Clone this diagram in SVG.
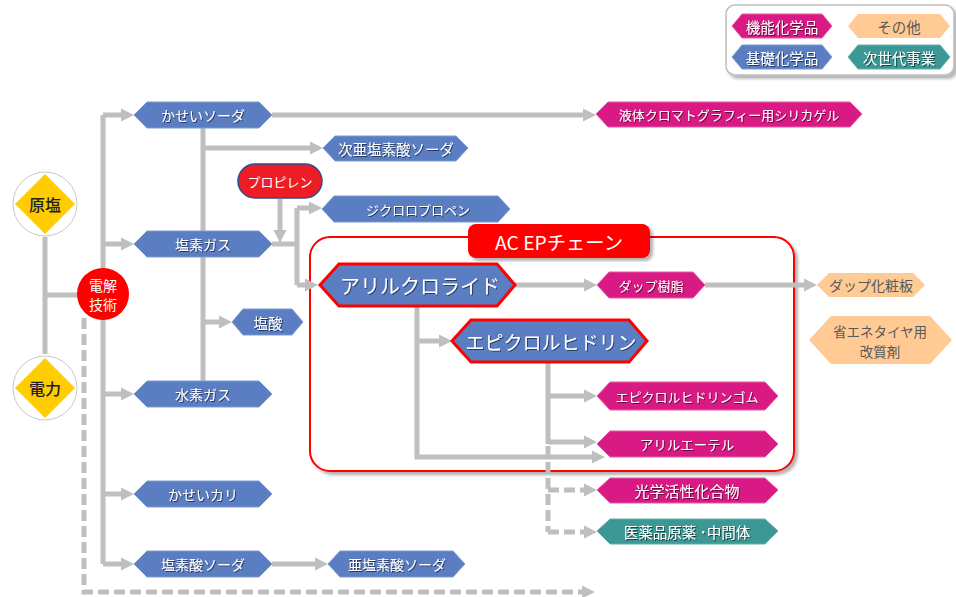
<svg xmlns="http://www.w3.org/2000/svg" width="956" height="597" viewBox="0 0 956 597">
<style>
.t{font-family:"Noto Sans CJK JP","Noto Sans",sans-serif;text-anchor:middle;dominant-baseline:central}
.w{fill:#fff;filter:url(#ts)}
.dk{fill:#595959}
.bl{fill:#5B7EC3;stroke:#7D9AD3;stroke-width:1}
.mg{fill:#DA1A84;stroke:#E55AA6;stroke-width:1}
.pc{fill:#FFCA94}
.tl{fill:#3C9895;stroke:#62B0AD;stroke-width:1}
.rb{fill:#5B7EC3;stroke:#FF0000;stroke-width:3}
.c{fill:none;stroke:#BFBFBF;stroke-width:5}
.ca{marker-end:url(#ah)}
.d{stroke-dasharray:11 5}
</style>
<defs>
<filter id="ts" x="-10%" y="-10%" width="130%" height="140%"><feDropShadow dx="1" dy="1" stdDeviation="0.6" flood-color="#000" flood-opacity="0.55"/></filter>
<filter id="bs" x="-5%" y="-5%" width="115%" height="115%"><feDropShadow dx="3" dy="3" stdDeviation="1.5" flood-color="#000" flood-opacity="0.3"/></filter>
<marker id="ah" markerUnits="userSpaceOnUse" markerWidth="14" markerHeight="14" refX="3" refY="7" orient="auto"><path d="M0,0.5 L13,7 L0,13.5 z" fill="#BFBFBF"/></marker>
</defs>

<g id="legend">
<rect x="726" y="5" width="228" height="70" rx="9" fill="#fff" stroke="#BDBDBD" stroke-width="1.5" filter="url(#bs)"/>
<polygon class="mg" points="732,26 742,14 822,14 832,26 822,38 742,38"/>
<text class="t w" x="782" y="26" font-size="14.5">機能化学品</text>
<polygon class="pc" points="848,26 858,14 940,14 950,26 940,38 858,38"/>
<text class="t dk" x="899" y="26" font-size="14.5">その他</text>
<polygon class="bl" points="732,57 742,45 822,45 832,57 822,69 742,69"/>
<text class="t w" x="782" y="57" font-size="14.5">基礎化学品</text>
<polygon class="tl" points="848,57 858,45 940,45 950,57 940,69 858,69"/>
<text class="t w" x="899" y="57" font-size="14.5">次世代事業</text>
</g>

<g id="acep-box">
<rect x="310" y="237" width="484" height="234" rx="20" fill="#fff" stroke="#FF0000" stroke-width="2" filter="url(#bs)"/>
</g>

<g id="connectors">
<path class="c" d="M45,237 V354 M45,295 H78"/>
<path class="c" d="M103,115 V564"/>
<path class="c ca" d="M103,115 H124"/>
<path class="c ca" d="M103,244 H124"/>
<path class="c ca" d="M103,394 H124"/>
<path class="c ca" d="M103,494 H124"/>
<path class="c ca" d="M103,564 H124"/>
<path class="c ca" d="M272,115 H586"/>
<path class="c" d="M203,127 V381"/>
<path class="c ca" d="M203,148 H313"/>
<path class="c ca" d="M203,322 H222"/>
<path class="c" d="M272,244 H297 M297,208 V285"/>
<path class="c ca" d="M297,208 H312"/>
<path class="c ca" d="M297,285 H308"/>
<path class="c ca" d="M280,199 V233"/>
<path class="c ca" d="M515,285 H587"/>
<path class="c ca" d="M705,285 H807"/>
<path class="c ca" d="M417,306 V457 H595"/>
<path class="c ca" d="M417,341 H442"/>
<path class="c" d="M548,362 V444"/>
<path class="c ca" d="M548,396 H587"/>
<path class="c ca" d="M548,442 H587"/>
<path class="c d" d="M548,446 V532"/>
<path class="c d ca" d="M548,490 H587"/>
<path class="c d ca" d="M548,532 H587"/>
<path class="c d ca" d="M84,318 V592 H585"/>
<path class="c ca" d="M272,564 H318"/>
</g>

<g id="genen">
<circle cx="45" cy="204" r="32" fill="#fff" stroke="#C8C8C8" stroke-width="1"/>
<polygon points="45,174 75,204 45,234 15,204" fill="#FFCC00"/>
<text class="t" x="45" y="204" font-size="16" font-weight="500" fill="#222">原塩</text>
</g>
<g id="denryoku">
<circle cx="45" cy="388" r="32" fill="#fff" stroke="#C8C8C8" stroke-width="1"/>
<polygon points="45,358 75,388 45,418 15,388" fill="#FFCC00"/>
<text class="t" x="45" y="388" font-size="16" font-weight="500" fill="#222">電力</text>
</g>
<g id="denkai">
<circle cx="103" cy="294" r="26" fill="#FF0000"/>
<text class="t" x="103" y="285" font-size="14" fill="#fff">電解</text>
<text class="t" x="103" y="304" font-size="14" fill="#fff">技術</text>
</g>

<g id="kaseisoda">
<polygon class="bl" points="134,115 147,102 259,102 272,115 259,128 147,128"/>
<text class="t w" x="203" y="115" font-size="14">かせいソーダ</text>
</g>
<g id="enso-gas">
<polygon class="bl" points="134,244 147,231 259,231 272,244 259,257 147,257"/>
<text class="t w" x="203" y="244" font-size="14">塩素ガス</text>
</g>
<g id="suiso-gas">
<polygon class="bl" points="134,394 147,381 259,381 272,394 259,407 147,407"/>
<text class="t w" x="203" y="394" font-size="14">水素ガス</text>
</g>
<g id="kaseikari">
<polygon class="bl" points="134,494 147,481 259,481 272,494 259,507 147,507"/>
<text class="t w" x="203" y="494" font-size="14">かせいカリ</text>
</g>
<g id="ensosan-soda">
<polygon class="bl" points="134,564 147,551 259,551 272,564 259,577 147,577"/>
<text class="t w" x="203" y="564" font-size="14">塩素酸ソーダ</text>
</g>
<g id="aensosan-soda">
<polygon class="bl" points="328,564 340,551 453,551 465,564 453,577 340,577"/>
<text class="t w" x="397" y="564" font-size="14">亜塩素酸ソーダ</text>
</g>
<g id="jiaensosan-soda">
<polygon class="bl" points="323,148 335,136 456,136 468,148 456,161 335,161"/>
<text class="t w" x="396" y="148" font-size="14.5">次亜塩素酸ソーダ</text>
</g>
<g id="ensan">
<polygon class="bl" points="232,322 243,309 292,309 303,322 292,335 243,335"/>
<text class="t w" x="268" y="322" font-size="14.5">塩酸</text>
</g>
<g id="propylene">
<rect x="238" y="164" width="84" height="34" rx="17" fill="#EE1C25" stroke="#2F4E8C" stroke-width="1.5"/>
<text class="t" x="280" y="181" font-size="13" fill="#fff">プロピレン</text>
</g>
<g id="dichloropropene">
<polygon class="bl" points="322,209 334,196 498,196 510,209 498,222 334,222"/>
<text class="t w" x="418" y="209" font-size="13">ジクロロプロペン</text>
</g>
<g id="silica">
<polygon class="mg" points="596,114 608,102 850,102 862,114 850,127 608,127"/>
<text class="t w" x="729" y="114" font-size="13">液体クロマトグラフィー用シリカゲル</text>
</g>

<g id="acep-title">
<rect x="468" y="224" width="182" height="34" rx="8" fill="#FF0000" filter="url(#bs)"/>
<text class="t" x="559" y="241" font-size="19" fill="#fff" textLength="128" lengthAdjust="spacingAndGlyphs">AC EPチェーン</text>
</g>
<g id="allyl-chloride">
<polygon class="rb" points="320,285 339,264 497,264 515,285 497,306 339,306"/>
<text class="t w" x="420" y="285" font-size="20">アリルクロライド</text>
</g>
<g id="epichlorohydrin">
<polygon class="rb" points="452,341 471,320 629,320 647,341 629,362 471,362"/>
<text class="t w" x="551" y="341" font-size="19">エピクロルヒドリン</text>
</g>
<g id="dap-resin">
<polygon class="mg" points="597,285 609,272 693,272 705,285 693,298 609,298"/>
<text class="t w" x="651" y="285" font-size="13">ダップ樹脂</text>
</g>
<g id="dap-board">
<polygon class="pc" points="817,285 829,273 913,273 925,285 913,297 829,297"/>
<text class="t dk" x="871" y="285" font-size="14">ダップ化粧板</text>
</g>
<g id="tire">
<polygon class="pc" points="809,340 831,316 930,316 952,340 930,364 831,364"/>
<text class="t dk" x="880" y="331" font-size="13.5">省エネタイヤ用</text>
<text class="t dk" x="880" y="351" font-size="13.5">改質剤</text>
</g>
<g id="epi-rubber">
<polygon class="mg" points="597,396 610,382 765,382 778,396 765,410 610,410"/>
<text class="t w" x="687" y="396" font-size="13">エピクロルヒドリンゴム</text>
</g>
<g id="allyl-ether">
<polygon class="mg" points="597,444 610,431 765,431 778,444 765,457 610,457"/>
<text class="t w" x="687" y="444" font-size="13.5">アリルエーテル</text>
</g>
<g id="optical">
<polygon class="mg" points="597,490 610,478 765,478 778,490 765,503 610,503"/>
<text class="t w" x="687" y="490" font-size="15">光学活性化合物</text>
</g>
<g id="pharma">
<polygon class="tl" points="597,531 610,519 765,519 778,531 765,544 610,544"/>
<text class="t w" x="687" y="531" font-size="14.5">医薬品原薬 ･中間体</text>
</g>
</svg>
